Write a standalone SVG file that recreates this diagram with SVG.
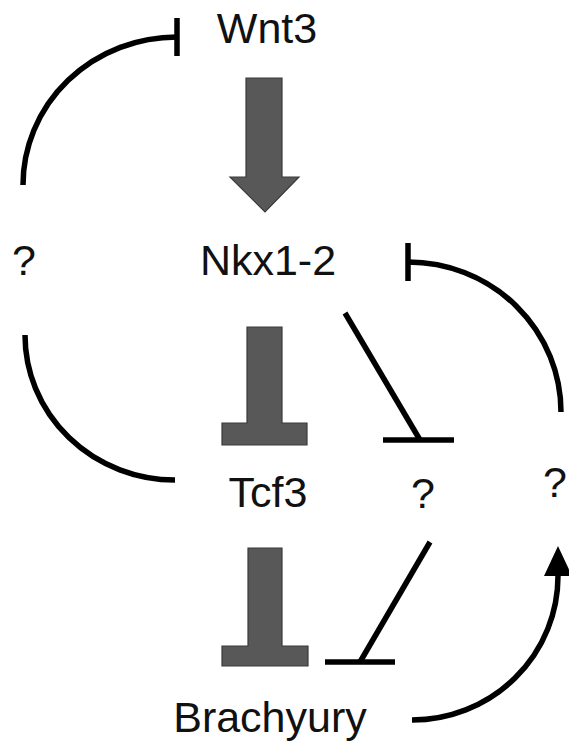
<svg xmlns="http://www.w3.org/2000/svg" width="569" height="749" viewBox="0 0 569 749">
<style>
.lbl{font-family:"Liberation Sans",Arial,sans-serif;font-size:43px;fill:#111;}
.mid{text-anchor:middle;}
.edge{fill:none;stroke:#000;stroke-width:5.5;stroke-linecap:butt;}
.grey{fill:#585858;stroke:#3a3a3a;stroke-width:1.2;}
</style>
<defs>
<marker id="arr" markerUnits="userSpaceOnUse" viewBox="0 0 30 28" markerWidth="30" markerHeight="28" refX="0" refY="14" orient="auto">
<path d="M0,0 L30,14 L0,28 z" fill="#000"/>
</marker>
</defs>
<g id="nodes">
<g id="wnt3"><text class="lbl mid" x="267" y="43">Wnt3</text></g>
<g id="nkx12"><text class="lbl mid" x="268" y="275">Nkx1-2</text></g>
<g id="tcf3"><text class="lbl mid" x="268" y="507">Tcf3</text></g>
<g id="brachyury"><text class="lbl mid" x="270" y="732">Brachyury</text></g>
<g id="q-left"><text class="lbl" x="12" y="275">?</text></g>
<g id="q-mid"><text class="lbl mid" x="423" y="508">?</text></g>
<g id="q-right"><text class="lbl" x="543" y="497">?</text></g>
</g>
<g id="connectors">
<g id="wnt3-to-nkx12"><path class="grey" d="M246,78 H282 V177 H299 L265,212 L230,177 H246 Z"/></g>
<g id="nkx12-inhibits-tcf3"><path class="grey" d="M247,327 H282 V423 H307 V445 H222 V423 H247 Z"/></g>
<g id="tcf3-inhibits-brachyury"><path class="grey" d="M248,548 H282 V646 H308 V666 H222 V646 H248 Z"/></g>
<g id="qleft-inhibits-wnt3"><path class="edge" d="M23,185 A154,148 0 0 1 177,37"/><line class="edge" x1="177" y1="18" x2="177" y2="56"/></g>
<g id="tcf3-qleft"><path class="edge" d="M25,335 A150,145 0 0 0 175,480"/></g>
<g id="nkx12-inhibits-qmid"><line class="edge" x1="345" y1="313" x2="420" y2="440"/><line class="edge" x1="383" y1="440" x2="454" y2="440"/></g>
<g id="qmid-inhibits-brachyury"><line class="edge" x1="430" y1="542" x2="360" y2="662"/><line class="edge" x1="325" y1="662" x2="395" y2="662"/></g>
<g id="qright-inhibits-nkx12"><path class="edge" d="M408,262 A153,150 0 0 1 561,412"/><line class="edge" x1="408" y1="243" x2="408" y2="281"/></g>
<g id="brachyury-to-qright"><path class="edge" marker-end="url(#arr)" d="M412,720 A146,144 0 0 0 558,576"/></g>
</g>
</svg>
